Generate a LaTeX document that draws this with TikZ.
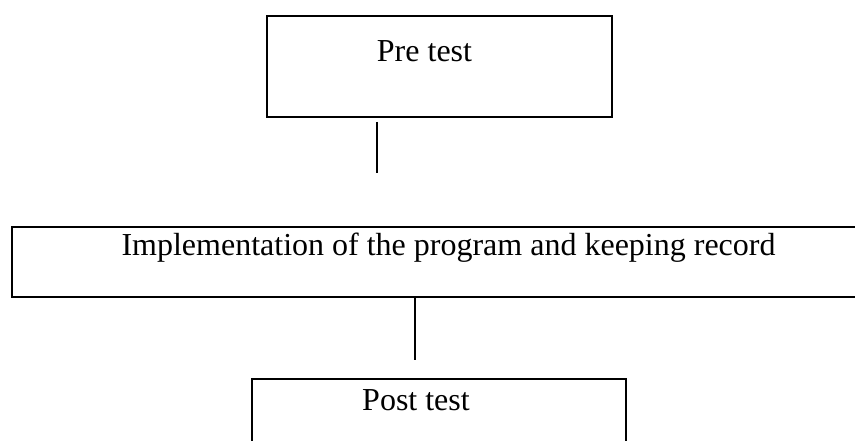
\documentclass[tikz,border=0pt]{standalone}
\usepackage{fontspec}
\setmainfont{Liberation Serif}
\tikzset{
  stagebox/.style={draw, line width=2pt, rectangle, inner sep=0pt},
  stagetext/.style={anchor=base, inner sep=0pt, font=\fontsize{32}{38}\selectfont},
  link/.style={line width=1.3pt}
}
\begin{document}
\begin{tikzpicture}[x=1pt,y=-1pt]
      \useasboundingbox (0,0) rectangle (855,441);
      \clip (0,0) rectangle (855,441);
      \draw
        (439.5,66.5) node[stagebox, minimum width=345pt, minimum height=101pt] (pre){}
        (424.5,62) node[stagetext] (pretext){Pre test}
        (448.5,262) node[stagebox, minimum width=873pt, minimum height=70pt] (impl){}
        (448.5,255) node[stagetext] (impltext){Implementation of the program and keeping record}
        (439,429) node[stagebox, minimum width=374pt, minimum height=100pt] (post){}
        (416,410) node[stagetext] (posttext){Post test};
      \coordinate (pre-top) at (377,122);
      \coordinate (pre-end) at (377,173);
      \coordinate (impl-end) at (415,360);
      \begin{scope}[link]
        \draw (pre-top) to (pre-end);
        \draw (impl.south -| impl-end) to (impl-end);
      \end{scope}
    \end{tikzpicture}
\end{document}
